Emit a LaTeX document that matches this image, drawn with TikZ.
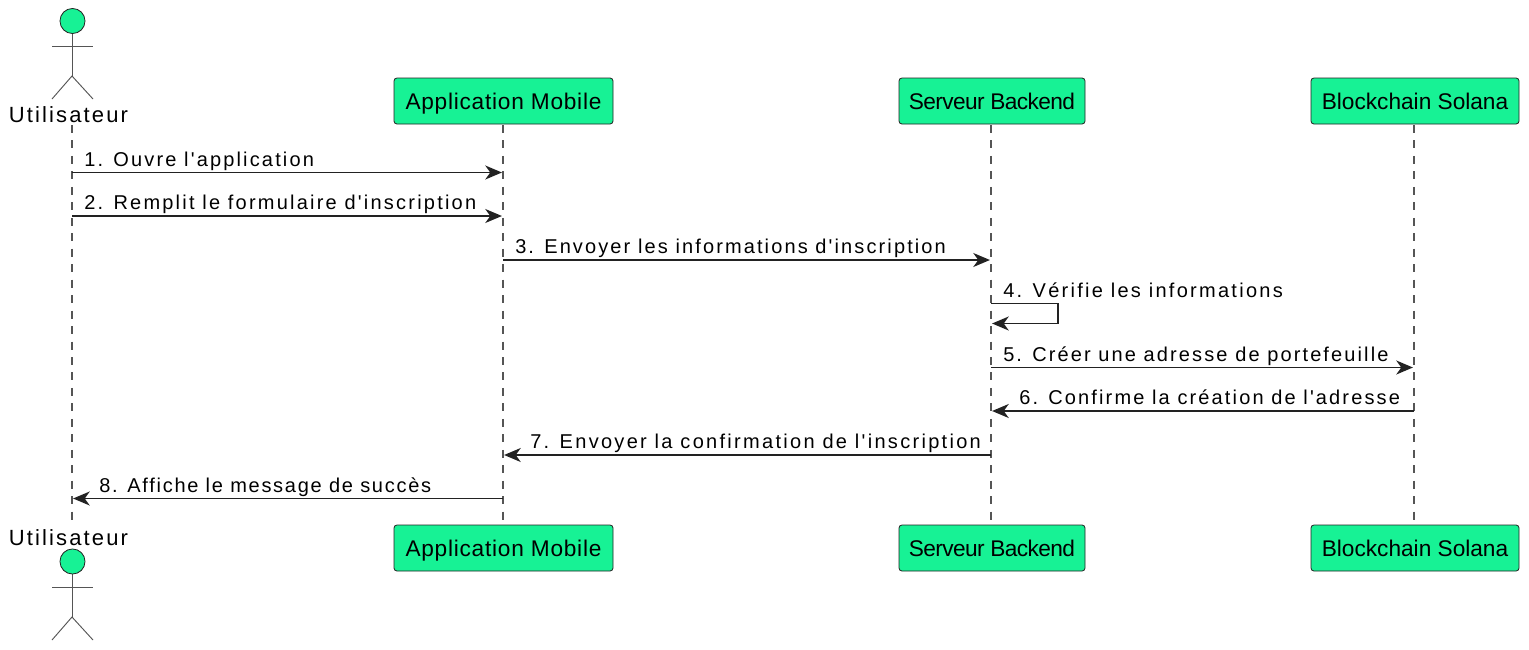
\documentclass[tikz,border=0pt]{standalone}
\usepackage{fontspec}
\setmainfont{Liberation Sans}
\newfontfamily\msgfont{Liberation Sans}
\newfontfamily\actfont[LetterSpace=9.7]{Liberation Sans}
\newfontfamily\appfont[LetterSpace=3.3]{Liberation Sans}
\newfontfamily\srvfont[LetterSpace=-2.6]{Liberation Sans}
\usetikzlibrary{arrows.meta}
\definecolor{partfill}{HTML}{17F295}
\definecolor{inkline}{HTML}{222222}
\definecolor{lifegrey}{HTML}{555555}
\tikzset{
  x=0.75pt,y=-0.75pt,
  lifeline/.style={draw=lifegrey,line width=0.8pt,dash pattern=on 6pt off 5.6pt},
  partbox/.style={draw=inkline,fill=partfill,rounded corners=2.2pt,line width=0.6pt,inner sep=0pt,text=black,text height=23.8pt,text depth=10.7pt,font=\fontsize{17pt}{20pt}\selectfont},
  appbox/.style={partbox,minimum width=164.25pt,font=\appfont\fontsize{17pt}{20pt}\selectfont},
  srvbox/.style={partbox,minimum width=139.5pt,font=\srvfont\fontsize{17pt}{20pt}\selectfont},
  chainbox/.style={partbox,minimum width=156pt},
  actorhead/.style={circle,draw=inkline,fill=partfill,line width=0.6pt,minimum size=18.8pt,inner sep=0pt},
  actorname/.style={anchor=base,inner sep=0pt,text=black,font=\actfont\fontsize{16.5pt}{20pt}\selectfont},
  stick/.style={draw=lifegrey,line width=0.7pt},
  msg/.style={draw=inkline,line width=1.2pt,shorten >=0.8pt,-{Stealth[length=12.5pt,width=10.5pt,inset=3.75pt]}},
  msgtext/.style={anchor=base west,inner sep=0pt,text=black,font=\msgfont\fontsize{15pt}{18pt}\selectfont\addfontfeature{LetterSpace=#1}},
}
\begin{document}
\begin{tikzpicture}
\useasboundingbox (0,0) rectangle (1529,650);
% lifeline reference points
\coordinate (uline) at (72,125);
\coordinate (aline) at (503,125);
\coordinate (sline) at (991,125);
\coordinate (bline) at (1414,125);
\coordinate (uend) at (72,525);
\coordinate (aend) at (503,525);
\coordinate (send) at (991,525);
\coordinate (bend) at (1414,525);
\draw[lifeline] (uline) -- (uend);
\draw[lifeline] (aline) -- (aend);
\draw[lifeline] (sline) -- (send);
\draw[lifeline] (bline) -- (bend);
% actors
\draw[stick] (72,33) -- (72,76);
\draw[stick] (52,46) -- (93,46);
\draw[stick] (52,99) -- (72,76) -- (93,99);
\node[actorhead] (uhead) at (72.5,21) {};
\node[actorname] (uname) at (68.5,122.7) {Utilisateur};
\draw[stick] (72,574) -- (72,617);
\draw[stick] (52,587) -- (93,587);
\draw[stick] (52,640) -- (72,617) -- (93,640);
\node[actorhead] (uheadb) at (72.5,561.5) {};
\node[actorname] (unameb) at (68.5,545.5) {Utilisateur};
% participants
\node[appbox] (atop) at (503.5,101) {Application Mobile};
\node[srvbox] (stop) at (992,101) {Serveur Backend};
\node[chainbox] (btop) at (1415,101) {Blockchain Solana};
\node[appbox] (abot) at (503.5,548) {Application Mobile};
\node[srvbox] (sbot) at (992,548) {Serveur Backend};
\node[chainbox] (bbot) at (1415,548) {Blockchain Solana};
% message heights
\coordinate (m1) at (0,172.5);
\coordinate (m2) at (0,216);
\coordinate (m3) at (0,260);
\coordinate (m4) at (0,303.5);
\coordinate (m4b) at (0,323.5);
\coordinate (m5) at (0,367.5);
\coordinate (m6) at (0,411);
\coordinate (m7) at (0,455);
\coordinate (m8) at (0,498.5);
\coordinate (loopx) at (1058,0);
% messages
\draw[msg] (uline |- m1) -- (aline |- m1);
\draw[msg] (uline |- m2) -- (aline |- m2);
\draw[msg] (aline |- m3) -- (sline |- m3);
\draw[msg] (sline |- m4) -- (loopx |- m4) -- (loopx |- m4b) -- (sline |- m4b);
\draw[msg] (sline |- m5) -- (bline |- m5);
\draw[msg] (bline |- m6) -- (sline |- m6);
\draw[msg] (sline |- m7) -- (aline |- m7);
\draw[msg] (aline |- m8) -- (uline |- m8);
% labels
\node[msgtext=10.8] (t1) at (84,166) {1. Ouvre l'application};
\node[msgtext=11.1] (t2) at (84,209.7) {2. Remplit le formulaire d'inscription};
\node[msgtext=10.6] (t3) at (515,253.5) {3. Envoyer les informations d'inscription};
\node[msgtext=11.4] (t4) at (1003,297.5) {4. Vérifie les informations};
\node[msgtext=10.6] (t5) at (1003,361.5) {5. Créer une adresse de portefeuille};
\node[msgtext=10.7] (t6) at (1019,404.7) {6. Confirme la création de l'adresse};
\node[msgtext=11.5] (t7) at (530,448.5) {7. Envoyer la confirmation de l'inscription};
\node[msgtext=8.6] (t8) at (99,492.5) {8. Affiche le message de succès};
\end{tikzpicture}
\end{document}
